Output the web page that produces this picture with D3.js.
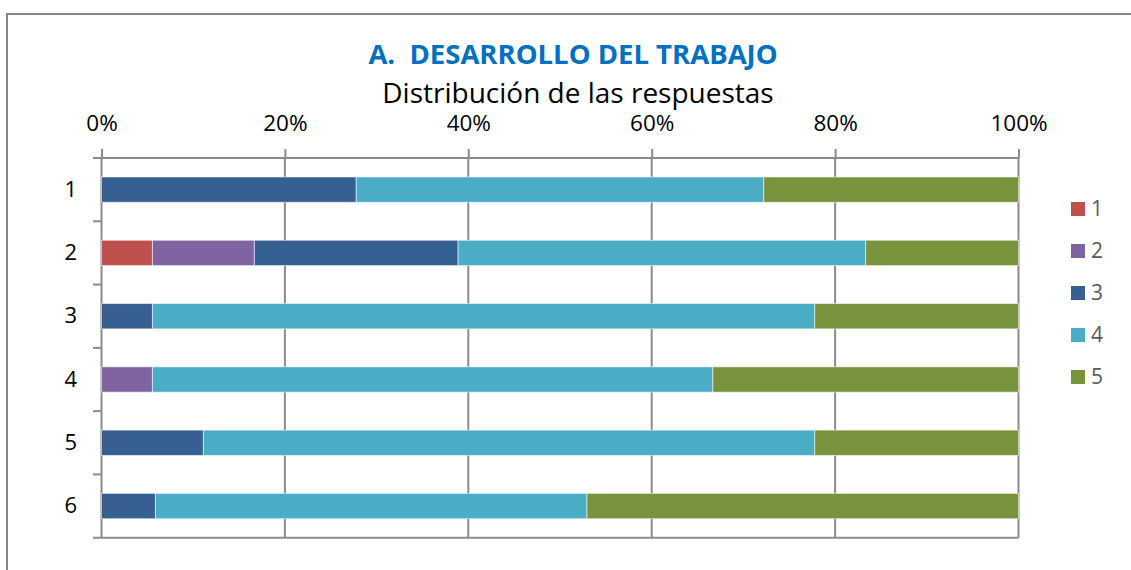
<!DOCTYPE html>
<html>
<head>
<meta charset="utf-8">
<script src="https://cdn.jsdelivr.net/npm/d3@7"></script>
<style>
  body { margin: 0; background: #fff; }
  text { font-family: "Open Sans", sans-serif; }
</style>
</head>
<body>
<div id="chart"></div>
<script>
// preguntas (filas) y opciones de respuesta (series)
var questions = ["1", "2", "3", "4", "5", "6"];
var answers = ["1", "2", "3", "4", "5"];
var answerColors = ["#C0504D", "#8064A2", "#366092", "#4BACC6", "#77933C"];

// numero de respuestas por opcion, una lista por opcion
var resp1 = [0, 1, 0, 0, 0, 0];
var resp2 = [0, 2, 0, 1, 0, 0];
var resp3 = [5, 4, 1, 0, 2, 1];
var resp4 = [8, 8, 13, 11, 12, 8];
var resp5 = [5, 3, 4, 6, 4, 8];

var xTicks = [0, 0.2, 0.4, 0.6, 0.8, 1];

var chart = {
    w: 1131,
    h: 570,
    left: 101.5,
    right: 1018.5,
    top: 158,
    bottom: 537.7
};

var rows = questions.map(function (q, i) {
    var r = { q: q };
    var counts = [resp1[i], resp2[i], resp3[i], resp4[i], resp5[i]];
    var total = d3.sum(counts);
    answers.forEach(function (a, j) { r[a] = counts[j] / total; });
    return r;
});

var stacked = d3.stack().keys(answers)(rows);

var svg = d3.select("#chart").append("svg")
    .attr("width", chart.w)
    .attr("height", chart.h);

// borde exterior
svg.append("rect")
    .attr("x", 7).attr("y", 14)
    .attr("width", 1200).attr("height", 700)
    .attr("fill", "none")
    .attr("stroke", "#868686")
    .attr("stroke-width", 2);

var x = d3.scaleLinear().domain([0, 1]).range([chart.left, chart.right]);
var y = d3.scaleBand().domain(questions)
    .range([chart.top, chart.bottom])
    .paddingInner(0.6).paddingOuter(0.3);

// titulo
svg.append("text")
    .attr("x", 573).attr("y", 64)
    .attr("text-anchor", "middle")
    .style("white-space", "pre")
    .attr("font-size", 27.5)
    .attr("font-weight", "bold")
    .attr("fill", "#0070C0")
    .text("A.  DESARROLLO DEL TRABAJO");

svg.append("text")
    .attr("x", 578).attr("y", 103)
    .attr("text-anchor", "middle")
    .attr("font-size", 28)
    .attr("fill", "#000")
    .text("Distribución de las respuestas");

var gridColor = "#8c8c8c";

// lineas verticales
svg.append("g").selectAll("line")
    .data(xTicks)
    .enter().append("line")
    .attr("x1", function (d) { return x(d); })
    .attr("x2", function (d) { return x(d); })
    .attr("y1", chart.top)
    .attr("y2", chart.bottom)
    .attr("stroke", gridColor)
    .attr("stroke-width", 2);

// marcas del eje de categorias
var bounds = d3.range(questions.length + 1).map(function (i) {
    return chart.top + i * (chart.bottom - chart.top) / questions.length;
});
svg.append("g").selectAll("line")
    .data(bounds)
    .enter().append("line")
    .attr("x1", 93)
    .attr("x2", function (d, i) { return (i == 0 || i == questions.length) ? chart.right : chart.left; })
    .attr("y1", function (d) { return d; })
    .attr("y2", function (d) { return d; })
    .attr("stroke", gridColor)
    .attr("stroke-width", 2);

// eje superior
var xAxis = d3.axisTop(x)
    .tickValues(xTicks)
    .tickFormat(d3.format(".0%"))
    .tickSize(9)
    .tickPadding(18);

var gx = svg.append("g")
    .attr("transform", "translate(0," + chart.top + ")")
    .call(xAxis);
gx.select(".domain").remove();
gx.selectAll(".tick line").attr("stroke", gridColor).attr("stroke-width", 2);
gx.selectAll(".tick text")
    .attr("font-family", "Open Sans")
    .attr("font-size", 22.5)
    .attr("fill", "#000");

// etiquetas de categorias
var yAxis = d3.axisLeft(y).tickSize(0).tickPadding(24.5);
var gy = svg.append("g")
    .attr("transform", "translate(" + chart.left + ",0)")
    .call(yAxis);
gy.select(".domain").remove();
gy.selectAll(".tick text")
    .attr("font-family", "Open Sans")
    .attr("font-size", 22)
    .attr("fill", "#000");

// barras
svg.append("g").selectAll("g")
    .data(stacked)
    .enter().append("g")
    .attr("fill", function (d, i) { return answerColors[i]; })
    .selectAll("rect")
    .data(function (d) { return d; })
    .enter().append("rect")
    .attr("x", function (d) { return x(d[0]); })
    .attr("width", function (d) { return x(d[1]) - x(d[0]); })
    .attr("y", function (d) { return y(d.data.q); })
    .attr("height", y.bandwidth())
    .attr("stroke", function (d) { return (d[1] - d[0]) > 0 ? "rgba(255,255,255,0.55)" : "none"; })
    .attr("stroke-width", 1);

// leyenda
var legend = svg.append("g").selectAll("g")
    .data(answers)
    .enter().append("g")
    .attr("transform", function (d, i) { return "translate(1071," + (202 + i * 42) + ")"; });

legend.append("rect")
    .attr("width", 14).attr("height", 14)
    .attr("fill", function (d, i) { return answerColors[i]; });

legend.append("text")
    .attr("x", 20).attr("y", 7)
    .attr("dy", "0.35em")
    .attr("font-size", 21)
    .attr("fill", "#595959")
    .text(function (d) { return d; });
</script>
</body>
</html>
